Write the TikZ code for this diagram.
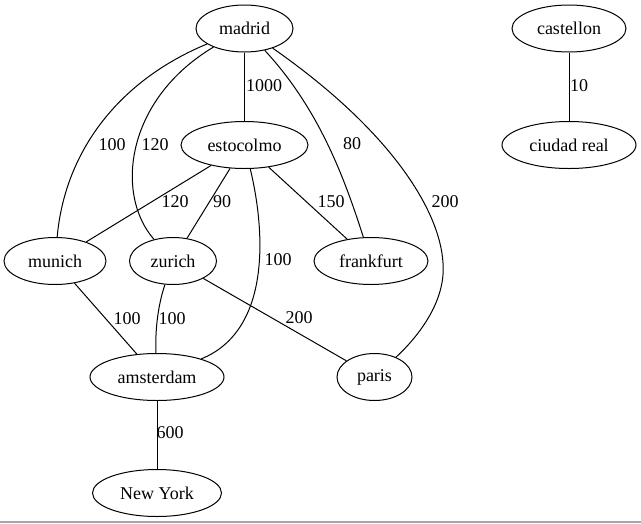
\documentclass[tikz,border=0pt]{standalone}
\usepackage{fontspec}
\setmainfont{Liberation Serif}
\newfontfamily\graphfont{Liberation Serif}
\usetikzlibrary{shapes.geometric}
\begin{document}
\begin{tikzpicture}[x=1pt,y=-1pt,
  every node/.style={font=\graphfont\fontsize{18}{20}\selectfont},
  city/.style={ellipse,draw,line width=1pt,inner sep=0pt,minimum height=47pt},
  edge/.style={line width=1pt},
  lbl/.style={inner sep=0pt}]
\useasboundingbox (0,0) rectangle (641,523);
\node[city,minimum width=97pt]  (madrid)    at (244.5,28.5) {madrid};
\node[city,minimum width=114pt] (castellon) at (569,28.5)   {castellon};
\node[city,minimum width=134pt] (ciudad)    at (569,145)    {ciudad real};
\node[city,minimum width=127pt] (estocolmo) at (244.5,145)  {estocolmo};
\node[city,minimum width=102pt] (munich)    at (55,261)     {munich};
\node[city,minimum width=87pt]  (zurich)    at (173,261)    {zurich};
\node[city,minimum width=114pt] (frankfurt) at (371,261)    {frankfurt};
\node[city,minimum width=134pt] (amsterdam) at (157,377)    {amsterdam};
\node[city,minimum width=75pt]  (paris)     at (374.5,377)  {paris};
\node[city,minimum width=129pt] (newyork)   at (157,493)    {New York};

\draw[edge] (madrid) .. controls (120,80) and (65,150) .. (munich);
\draw[edge] (madrid) .. controls (125,100) and (115,195) .. (zurich);
\draw[edge] (madrid) -- (estocolmo);
\draw[edge] (madrid) .. controls (320,110) and (345,180) .. (frankfurt);
\coordinate (pmid) at (443,263);
\draw[edge] (madrid) .. controls (390,130) and (440,210) .. (pmid)
  .. controls (446,300) and (420,335) .. (paris);
\draw[edge] (estocolmo) -- (munich);
\draw[edge] (estocolmo) -- (zurich);
\draw[edge] (estocolmo) -- (frankfurt);
\draw[edge] (estocolmo) .. controls (265,230) and (272,330) .. (amsterdam);
\draw[edge] (munich) -- (amsterdam);
\draw[edge] (zurich) .. controls (158,305) and (155,330) .. (amsterdam);
\draw[edge] (zurich) -- (paris);
\draw[edge] (amsterdam) -- (newyork);
\draw[edge] (castellon) -- (ciudad);

\node[lbl] (l1)  at (112,145) {100};
\node[lbl] (l2)  at (155,145) {120};
\node[lbl] (l3)  at (264,86)  {1000};
\node[lbl] (l4)  at (352,144) {80};
\node[lbl] (l5)  at (445,202) {200};
\node[lbl] (l6)  at (175,202) {120};
\node[lbl] (l7)  at (222,202) {90};
\node[lbl] (l8)  at (331,202) {150};
\node[lbl] (l9)  at (278,260) {100};
\node[lbl] (l10) at (127,319) {100};
\node[lbl] (l11) at (172,319) {100};
\node[lbl] (l12) at (299,318) {200};
\node[lbl] (l13) at (170,433) {600};
\node[lbl] (l14) at (579,86)  {10};

\draw[gray!70,line width=1.2pt] (0,522) -- (641,522);
\end{tikzpicture}
\end{document}
